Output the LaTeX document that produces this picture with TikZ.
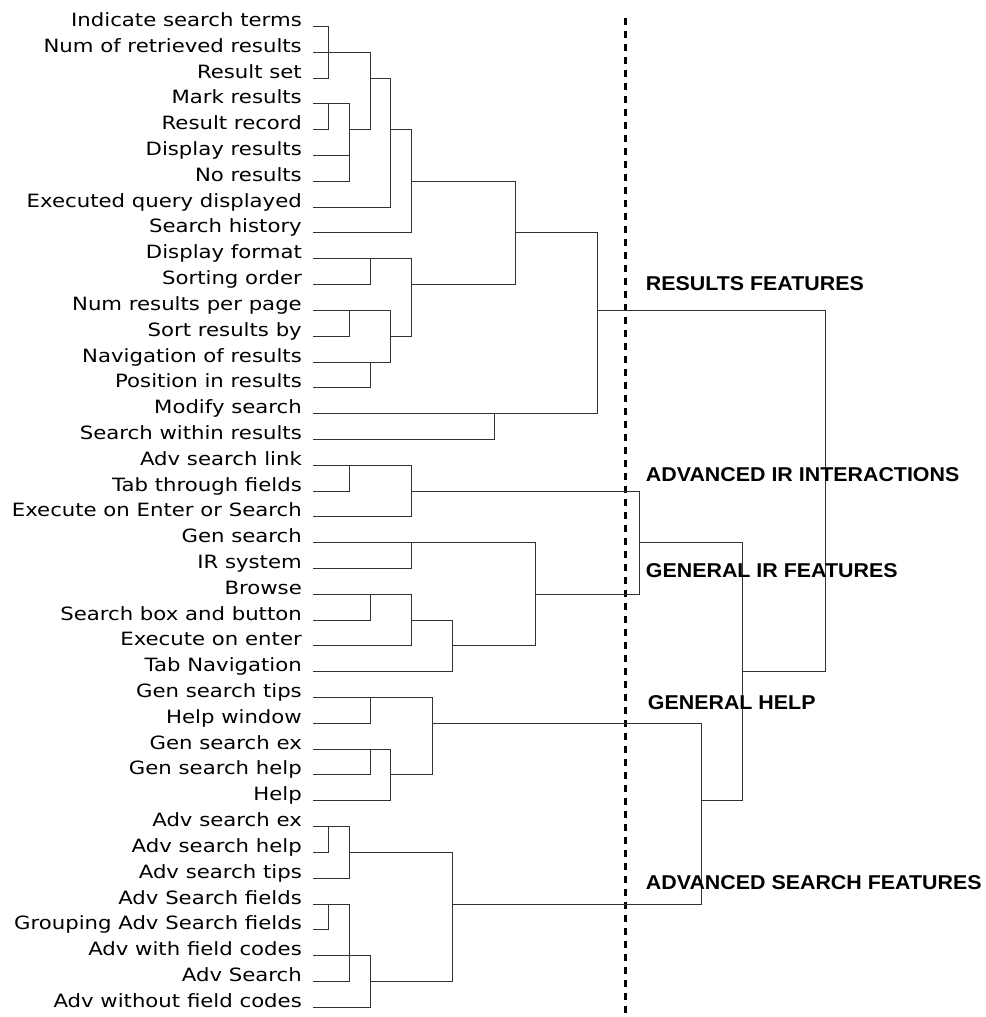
\documentclass[tikz,border=0pt]{standalone}
\usepackage{fontspec}
\newfontfamily\leaffont{DejaVu Sans}[FakeStretch=1.16]
\newfontfamily\catfont{Liberation Sans}[FakeStretch=1.07]
% vertical position of leaf row #1, kept on the pixel centre
\newcommand\ry[1]{round(26+25.81*#1)+0.5}
\begin{document}
\begin{tikzpicture}[x=1pt,y=-1pt,
  leaf/.style={anchor=base east,inner sep=0pt,font=\leaffont\fontsize{18.3}{20}\selectfont},
  cat/.style={anchor=base west,inner sep=0pt,font=\catfont\bfseries\fontsize{20}{22}\selectfont},
  link/.style={line width=1.3pt,draw=black!80,line join=miter},
  divider/.style={line width=2.2pt,draw=black,dash pattern=on 7pt off 6pt}]
\useasboundingbox (0,0) rectangle (985,1017);

% leaf labels and the start point of each leaf line
\foreach \t [count=\i from 0] in {Indicate search terms,Num of retrieved results,Result set,
  Mark results,Result record,Display results,No results,Executed query displayed,
  Search history,Display format,Sorting order,Num results per page,Sort results by,
  Navigation of results,Position in results,Modify search,Search within results,
  Adv search link,Tab through fields,Execute on Enter or Search,Gen search,IR system,
  Browse,Search box and button,Execute on enter,Tab Navigation,Gen search tips,
  Help window,Gen search ex,Gen search help,Help,Adv search ex,Adv search help,
  Adv search tips,Adv Search fields,Grouping Adv Search fields,Adv with field codes,
  Adv Search,Adv without field codes}{
  \node[leaf] (l\i) at (302,{\ry{\i}}) {\t};
  \coordinate (s\i) at ([xshift=11pt]l\i.base east);
}

% divider
\coordinate (dtop) at (625.5,18);
\coordinate (dbot) at (625.5,1017);
\draw[divider] (dtop) -- (dbot);

% results features
\draw[link] (s0) -| (328.5,{\ry{2}}) -- (s2);
\draw[link] (s1) -| (370.5,{\ry{4}}) -- (349.5,{\ry{4}});
\draw[link] (s4) -| (328.5,{\ry{3}});
\draw[link] (s3) -| (349.5,{\ry{6}}) -- (s6);
\draw[link] (s5) -- (349.5,{\ry{5}});
\draw[link] (370.5,{\ry{2}}) -| (390.5,{\ry{7}}) -- (s7);
\draw[link] (390.5,{\ry{4}}) -| (411.5,{\ry{8}}) -- (s8);
\draw[link] (411.5,{\ry{6}}) -| (515.5,{\ry{10}}) -- (411.5,{\ry{10}});
\draw[link] (515.5,{\ry{8}}) -| (597.5,{\ry{15}}) -- (s15);
\draw[link] (s9) -| (411.5,{\ry{12}}) -- (390.5,{\ry{12}});
\draw[link] (s10) -| (370.5,{\ry{9}});
\draw[link] (s11) -| (390.5,{\ry{13}}) -- (s13);
\draw[link] (s12) -| (349.5,{\ry{11}});
\draw[link] (s14) -| (370.5,{\ry{13}});
\draw[link] (s16) -| (494.5,{\ry{15}});

% advanced IR interactions and general IR features
\draw[link] (s17) -| (411.5,{\ry{19}}) -- (s19);
\draw[link] (s18) -| (349.5,{\ry{17}});
\draw[link] (411.5,{\ry{18}}) -| (639.5,{\ry{22}}) -- (535.5,{\ry{22}});
\draw[link] (s20) -| (535.5,{\ry{24}}) -- (452.5,{\ry{24}});
\draw[link] (s21) -| (411.5,{\ry{20}});
\draw[link] (s22) -| (411.5,{\ry{24}}) -- (s24);
\draw[link] (s23) -| (370.5,{\ry{22}});
\draw[link] (411.5,{\ry{23}}) -| (452.5,{\ry{25}}) -- (s25);

% upper joins
\draw[link] (597.5,{\ry{11}}) -| (825.5,{\ry{25}}) -- (742.5,{\ry{25}});
\draw[link] (639.5,{\ry{20}}) -| (742.5,{\ry{30}}) -- (701.5,{\ry{30}});

% general help
\draw[link] (s26) -| (432.5,{\ry{29}}) -- (390.5,{\ry{29}});
\draw[link] (s27) -| (370.5,{\ry{26}});
\draw[link] (432.5,{\ry{27}}) -| (701.5,{\ry{34}}) -- (452.5,{\ry{34}});
\draw[link] (s28) -| (390.5,{\ry{30}}) -- (s30);
\draw[link] (s29) -| (370.5,{\ry{28}});

% advanced search features
\draw[link] (s31) -| (349.5,{\ry{33}}) -- (s33);
\draw[link] (s32) -| (328.5,{\ry{31}});
\draw[link] (349.5,{\ry{32}}) -| (452.5,{\ry{37}}) -- (370.5,{\ry{37}});
\draw[link] (s34) -| (349.5,{\ry{37}}) -- (s37);
\draw[link] (s35) -| (328.5,{\ry{34}});
\draw[link] (s36) -| (370.5,{\ry{38}}) -- (s38);

% cluster names
\node[cat] (c1) at (645.7,290) {RESULTS FEATURES};
\node[cat] (c2) at (645.7,481) {ADVANCED IR INTERACTIONS};
\node[cat] (c3) at (645.7,577.7) {GENERAL IR FEATURES};
\node[cat] (c4) at (647.7,709.3) {GENERAL HELP};
\node[cat] (c5) at (645.7,889) {ADVANCED SEARCH FEATURES};
\end{tikzpicture}
\end{document}
